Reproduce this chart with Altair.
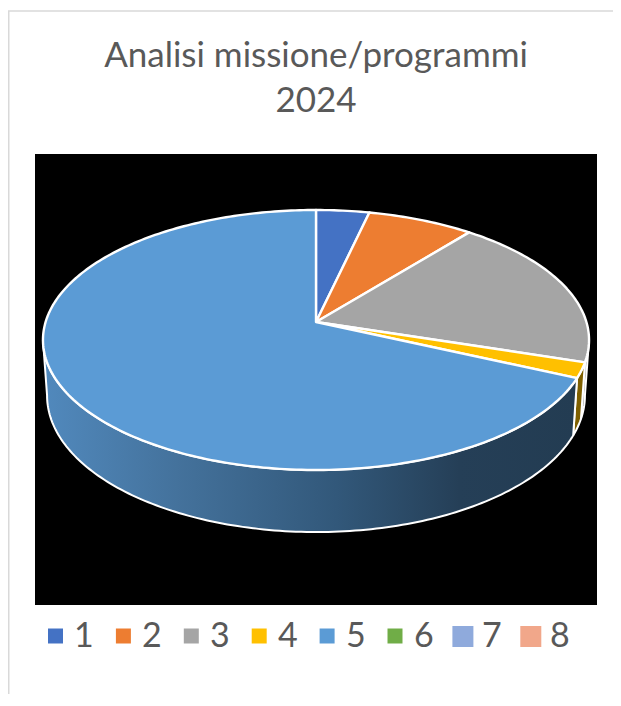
import math
import altair as alt
import pandas as pd

title_lines = ["Analisi missione/programmi", "2024"]
categories = ["1", "2", "3", "4", "5", "6", "7", "8"]
values = [3.6, 7.2, 19.1, 1.9, 68.2, 0, 0, 0]
colors = ["#4472c4", "#ed7d31", "#a5a5a5", "#ffc000", "#5b9bd5", "#70ad47", "#8faadc", "#f1a78a"]
wall_colors = {"3": "#6f6f6f", "4": "#7f6000"}

W, H = 605, 686
OX, OY = 8, 8
CX, CY = 316 - OX, 322 - OY
A, B, K = 127.5, 270.4, 0.1385
D0, KD, XS = 54.6, 0.12, 0.985
WALL_FROM = math.degrees(math.acos(-K))
WALL_TO = 360 - WALL_FROM


def top(t):
    s, c = math.sin(t), math.cos(t)
    w = 1 + K * c
    return [CX + B * s / w, CY - A * c / w]


def bottom(t):
    x, y = top(t)
    return [CX + (x - CX) * XS, y + D0 / (1 + KD * math.cos(t))]


def sweep(a, b, n=None):
    n = n or max(2, int(abs(b - a) / 1.0))
    return [math.radians(a + (b - a) * i / n) for i in range(n + 1)]


def feature(ring, cat, color):
    ring = ring + [ring[0]]
    return {
        "type": "Feature",
        "properties": {"cat": cat, "fill": color},
        "geometry": {"type": "Polygon", "coordinates": [ring]},
    }


slices, walls, front_wall = [], [], []
start = 0.0
total = sum(values)
for cat, val, col in zip(categories, values, colors):
    if val <= 0:
        continue
    end = start + 360 * val / total
    ring = [[CX, CY]] + [top(t) for t in sweep(start, end)]
    slices.append(feature(ring, cat, col))
    a, b = max(start, WALL_FROM), min(end, WALL_TO)
    if b > a:
        ts = sweep(a, b)
        wring = [top(t) for t in ts] + [bottom(t) for t in reversed(ts)]
        f = feature(wring, cat, wall_colors.get(cat, col))
        (walls if cat in wall_colors else front_wall).append(f)
    start = end

proj = alt.Projection(type="identity", scale=1, translate=[0, 0])
one = pd.DataFrame({"a": [0]})

background = alt.Chart(one).mark_rect(color="#000000").encode(
    x=alt.value(35 - OX), x2=alt.value(597 - OX), y=alt.value(154 - OY), y2=alt.value(605 - OY)
)
frame_left = alt.Chart(one).mark_rule(color="#d9d9d9", strokeWidth=1.5).encode(
    x=alt.value(0.75), y=alt.value(11 - OY), y2=alt.value(H)
)
frame_top = alt.Chart(one).mark_rule(color="#d9d9d9", strokeWidth=1.5).encode(
    x=alt.value(0), x2=alt.value(W), y=alt.value(11 - OY)
)

wall_chart = alt.Chart(alt.Data(values=walls)).mark_geoshape(stroke="#ffffff", strokeWidth=2).encode(
    fill=alt.Fill("properties.fill:N", scale=None)
).project(**proj.to_dict())

front_chart = alt.Chart(alt.Data(values=front_wall)).mark_geoshape(
    stroke="#ffffff",
    strokeWidth=2,
    fill=alt.Gradient(
        gradient="linear",
        x1=1, x2=0, y1=0, y2=0,
        stops=[
            alt.GradientStop(offset=0, color="#233c52"),
            alt.GradientStop(offset=0.22, color="#253f57"),
            alt.GradientStop(offset=0.45, color="#32587a"),
            alt.GradientStop(offset=0.75, color="#44729c"),
            alt.GradientStop(offset=1, color="#5189bd"),
        ],
    ),
).project(**proj.to_dict())

slice_chart = alt.Chart(alt.Data(values=slices)).mark_geoshape(
    stroke="#ffffff", strokeWidth=2.4, strokeJoin="round"
).encode(fill=alt.Fill("properties.fill:N", scale=None)).project(**proj.to_dict())

title_df = pd.DataFrame({"t": title_lines, "py": [67 - OY, 112 - OY]})
title = alt.Chart(title_df).mark_text(
    font="Lato", fontSize=35, color="#595959", align="center", baseline="alphabetic"
).encode(
    x=alt.value(316 - OX),
    y=alt.Y("py:Q", scale=None),
    text="t:N",
)

legend_df = pd.DataFrame({
    "cat": categories,
    "col": colors,
    "sx": [55.5 - OX + 67.9 * i for i in range(8)],
    "tx": [74 - OX + 68 * i for i in range(8)],
    "sy": [636 - OY] * 6 + [636.5 - OY] * 2,
    "ty": [647 - OY] * 8,
    "sz": [225] * 6 + [441] * 2,
})
legend_marks = alt.Chart(legend_df).mark_point(shape="square", filled=True, opacity=1, strokeWidth=0).encode(
    x=alt.X("sx:Q", scale=None),
    y=alt.Y("sy:Q", scale=None),
    size=alt.Size("sz:Q", scale=None),
    fill=alt.Fill("col:N", scale=None),
)
legend_text = alt.Chart(legend_df).mark_text(
    font="Lato", fontSize=34, color="#595959", align="left", baseline="alphabetic"
).encode(
    x=alt.X("tx:Q", scale=None),
    y=alt.Y("ty:Q", scale=None),
    text="cat:N",
)

chart = alt.layer(
    frame_left, frame_top, background, wall_chart, front_chart, slice_chart, title, legend_marks, legend_text
).properties(
    width=W, height=H, padding=0, autosize=alt.AutoSizeParams(type="none")
).configure_view(stroke=None).configure_axis(disable=True)

chart.save("out.html", embed_options={"renderer": "svg", "actions": False})
